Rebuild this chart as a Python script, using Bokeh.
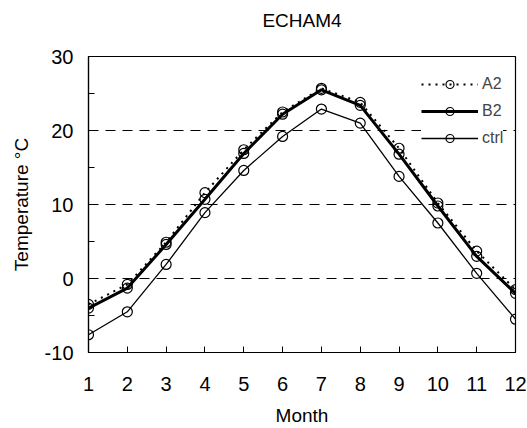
from bokeh.plotting import figure
from bokeh.models import FixedTicker, Range1d, Legend, LegendItem, Title
from bokeh.embed import file_html
from bokeh.resources import INLINE

months = [1, 2, 3, 4, 5, 6, 7, 8, 9, 10, 11, 12]
a2 = [-3.5, -0.8, 4.9, 11.6, 17.4, 22.5, 25.7, 23.8, 17.6, 10.2, 3.7, -1.5]
b2 = [-4.0, -1.3, 4.6, 10.7, 16.9, 22.2, 25.5, 23.4, 16.8, 9.8, 3.0, -2.0]
ctrl = [-7.6, -4.5, 1.9, 8.9, 14.6, 19.2, 22.9, 21.0, 13.8, 7.5, 0.7, -5.5]
y_ticks = [-10, 0, 10, 20, 30]
y_tick_labels = {-10: "-10", 0: "0", 10: "10", 20: "20", 30: "30"}
y_minor = [-5, 5, 15, 25]
grid_ticks = [0, 10, 20]
title_text = "ECHAM4"

FONT = "Liberation Sans"

p = figure(width=527, height=428, output_backend="svg", toolbar_location=None,
           x_range=Range1d(1, 12), y_range=Range1d(-10, 30),
           min_border_left=88, min_border_right=12, min_border_top=56,
           min_border_bottom=76)
# spacer between the frame and the title, then the title itself
p.add_layout(Title(text=" ", text_font_size="1px", standoff=23), "above")
p.add_layout(Title(text=title_text, align="center", vertical_align="bottom",
                   text_font=FONT, text_font_size="19px", text_font_style="normal",
                   text_color="black", standoff=0), "above")
p.background_fill_color = "white"
p.border_fill_color = "white"
p.outline_line_color = "black"
p.outline_line_width = 1.2

p.xgrid.visible = False
p.ygrid.ticker = FixedTicker(ticks=grid_ticks)
p.ygrid.grid_line_color = "black"
p.ygrid.grid_line_dash = "10 7"
p.ygrid.grid_line_width = 1

for ax in (p.xaxis[0], p.yaxis[0]):
    ax.axis_line_color = "black"
    ax.axis_line_width = 1.2
    ax.major_tick_in = 6
    ax.major_tick_out = 0
    ax.minor_tick_in = 6
    ax.minor_tick_out = 0
    ax.major_label_text_font = FONT
    ax.major_label_text_font_size = "20px"
    ax.major_label_text_color = "black"
    ax.axis_label_text_font = FONT
    ax.axis_label_text_font_size = "19px"
    ax.axis_label_text_font_style = "normal"
    ax.axis_label_text_color = "black"

p.xaxis.ticker = FixedTicker(ticks=months)
p.xaxis.major_label_standoff = 24
p.xaxis.axis_label = "Month"
p.xaxis.axis_label_standoff = 11
p.yaxis.ticker = FixedTicker(ticks=y_ticks, minor_ticks=y_minor)
p.yaxis.major_label_overrides = y_tick_labels
p.yaxis.major_label_standoff = 15
p.yaxis.axis_label = "Temperature °C"
p.yaxis.axis_label_standoff = 10

l_ctrl = p.line(months, ctrl, line_color="black", line_width=1.3)
c_ctrl = p.scatter(months, ctrl, marker="circle", size=10, fill_color=None,
                   line_color="black", line_width=1.2)
l_b2 = p.line(months, b2, line_color="black", line_width=3)
c_b2 = p.scatter(months, b2, marker="circle", size=10, fill_color=None,
                 line_color="black", line_width=1.2)
l_a2 = p.line(months, a2, line_color="black", line_width=2, line_dash="2 5")
c_a2 = p.scatter(months, a2, marker="circle", size=10, fill_color=None,
                 line_color="black", line_width=1.2)

legend = Legend(items=[
    LegendItem(label="A2", renderers=[l_a2, c_a2]),
    LegendItem(label="B2", renderers=[l_b2, c_b2]),
    LegendItem(label="ctrl", renderers=[l_ctrl, c_ctrl]),
], location=(333, 204))
legend.border_line_color = None
legend.background_fill_color = "white"
legend.background_fill_alpha = 1
legend.glyph_width = 57
legend.glyph_height = 20
legend.spacing = 7
legend.padding = 6
legend.margin = 0
legend.label_text_font = FONT
legend.label_text_font_size = "16px"
legend.label_standoff = 4
p.add_layout(legend)

open("out.html", "w").write(file_html(p, INLINE))
